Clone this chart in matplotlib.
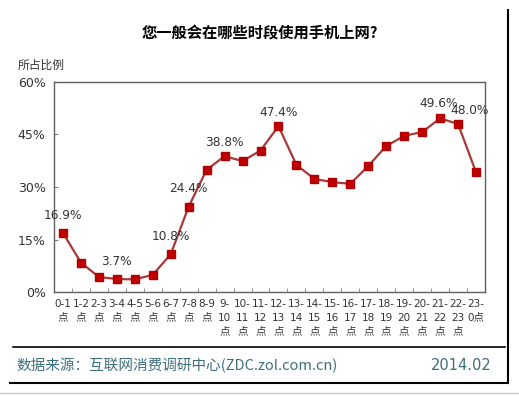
import matplotlib.pyplot as plt
from matplotlib.lines import Line2D

plt.rcParams['font.family'] = ['DejaVu Sans', 'Noto Sans CJK SC']

# 数据
time_slots = ['0-1\n点', '1-2\n点', '2-3\n点', '3-4\n点', '4-5\n点', '5-6\n点',
              '6-7\n点', '7-8\n点', '8-9\n点', '9-\n10\n点', '10-\n11\n点', '11-\n12\n点',
              '12-\n13\n点', '13-\n14\n点', '14-\n15\n点', '15-\n16\n点', '16-\n17\n点',
              '17-\n18\n点', '18-\n19\n点', '19-\n20\n点', '20-\n21\n点', '21-\n22\n点',
              '22-\n23\n点', '23-\n0点']
shares = [16.9, 8.4, 4.3, 3.7, 3.6, 4.9, 10.8, 24.4, 34.9, 38.8, 37.4, 40.4,
          47.4, 36.3, 32.3, 31.4, 30.9, 36.0, 41.7, 44.6, 45.7, 49.6, 48.0, 34.2]
labeled = [0, 3, 6, 7, 9, 12, 21, 22]
y_ticks = [0, 15, 30, 45, 60]

fig = plt.figure(figsize=(5.19, 3.96), dpi=100)
ax = fig.add_axes([0.104, 0.2626, 0.8305, 0.5304])

x = list(range(len(shares)))
ax.plot(x, shares, color='#a8393b', lw=1.6, marker='s', markersize=5.5,
        markerfacecolor='#c00000', markeredgecolor='#b00000', zorder=3)

offsets = {0: (0, 8), 3: (0, 8), 6: (0, 8), 7: (0, 8), 9: (0, 5), 12: (0, 5),
           21: (-1, 6), 22: (8, 5)}
for i in labeled:
    dx, dy = offsets[i]
    ax.annotate(f'{shares[i]:.1f}%', (i, shares[i]), xytext=(dx, dy),
                textcoords='offset points', ha='center', va='bottom',
                fontsize=8.7, color='#333333')

ax.set_xlim(-0.5, len(shares) - 0.5)
ax.set_ylim(0, 60)
ax.set_yticks(y_ticks)
ax.set_yticklabels([f'{v}%' for v in y_ticks], fontsize=9, color='#333333')
ax.set_xticks(x)
ax.set_xticklabels(time_slots, fontsize=7.5, color='#333333', linespacing=1.45)
ax.set_xticks([i - 0.5 for i in range(1, len(shares))], minor=True)
ax.tick_params(axis='x', which='major', length=0, pad=5)
ax.tick_params(axis='x', which='minor', direction='in', length=3, color='#808080')
ax.tick_params(axis='y', direction='in', length=3, color='#808080', pad=6)
for s in ax.spines.values():
    s.set_color('#606060')
    s.set_linewidth(1.0)

# 标题和注释
fig.text(0.5, 1 - 33 / 396, '您一般会在哪些时段使用手机上网?', ha='center', va='center',
         fontsize=11, fontweight='bold', family=['Noto Sans CJK SC'])
fig.text(18 / 519, 1 - 65 / 396, '所占比例', ha='left', va='center', fontsize=8.5,
         family=['Noto Sans CJK SC'], color='#333333')
fig.text(16 / 519, 1 - 366 / 396, '数据来源：互联网消费调研中心(ZDC.zol.com.cn)', ha='left',
         va='center', fontsize=10.5, color='#3d6f7c', family=['Noto Sans CJK SC'])
fig.text(492 / 519, 1 - 366 / 396, '2014.02', ha='right', va='center', fontsize=10.5,
         color='#3d6f7c')

# 边框
W, H = 519, 396
fig.add_artist(Line2D([508 / W, 508 / W], [1 - 10 / H, 1 - 383 / H], color='black', lw=1.5))
fig.add_artist(Line2D([10 / W, 508 / W], [1 - 383 / H, 1 - 383 / H], color='black', lw=1.5))
fig.add_artist(Line2D([13 / W, 505 / W], [1 - 347 / H, 1 - 347 / H], color='black', lw=1.2))
fig.add_artist(Line2D([0, 1], [1 - 393 / H, 1 - 393 / H], color='#cccccc', lw=1))

fig.savefig('out.png', dpi=100)
